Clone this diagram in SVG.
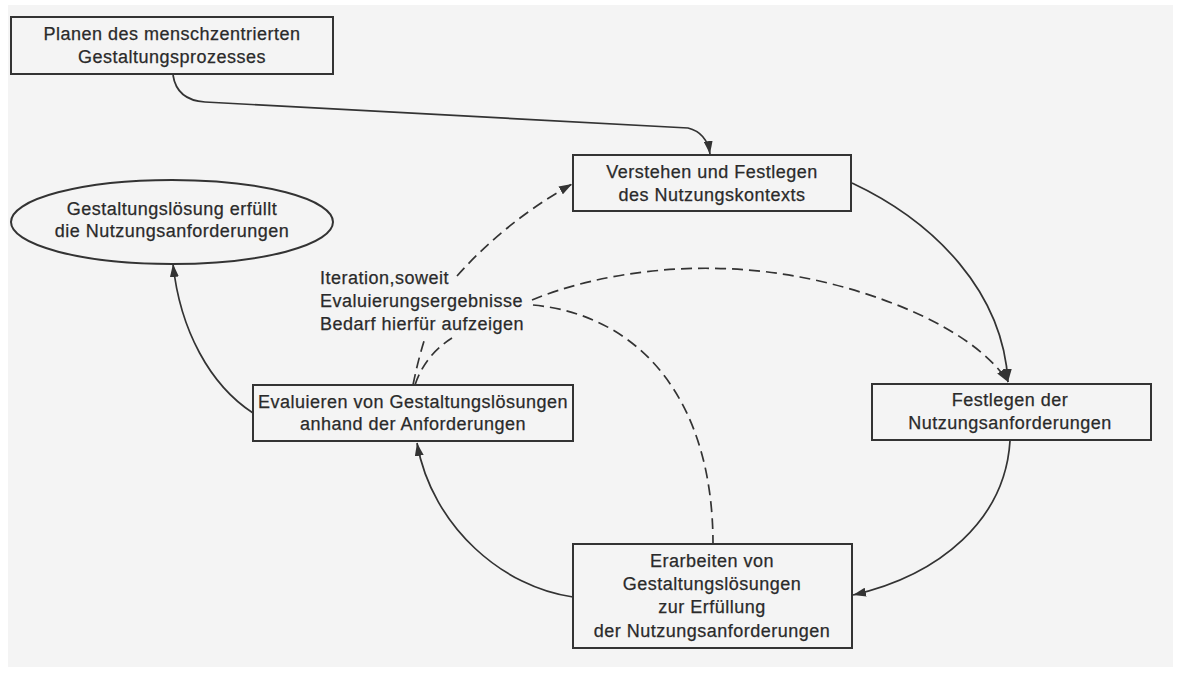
<svg xmlns="http://www.w3.org/2000/svg" width="1179" height="674" viewBox="0 0 1179 674">
  <style>
    .box { fill: none; stroke: #333; stroke-width: 2; }
    .t { font-family: "Liberation Sans", Arial, sans-serif; font-size: 18px; letter-spacing: 0.5px; fill: #2a2a2a; stroke: #2a2a2a; stroke-width: 0.25; }
    .c { text-anchor: middle; }
    .solid { fill: none; stroke: #333; stroke-width: 1.7; }
    .dash { fill: none; stroke: #333; stroke-width: 1.7; stroke-dasharray: 11 6; }
  </style>
  <defs>
    <marker id="arr" viewBox="0 0 13 9" refX="13" refY="4.5" markerWidth="13" markerHeight="9" markerUnits="userSpaceOnUse" orient="auto">
      <path d="M0,0 L13,4.5 L0,9 Z" fill="#333"/>
    </marker>
  </defs>
  <rect x="0" y="0" width="1179" height="674" fill="#ffffff"/>
  <rect x="8" y="5" width="1165" height="662" fill="#f4f4f4"/>

  <g id="connectors">
    <path class="solid" d="M173,75 C176,95 190,101 205,102 L688,128 C700,131 708,140 710,154" marker-end="url(#arr)"/>
    <path class="solid" d="M852,183 C935,222 1003,292 1008,382" marker-end="url(#arr)"/>
    <path class="dash" d="M532,300 C600,272 700,258 800,277 C880,292 975,330 1008,382" marker-end="url(#arr)"/>
    <path class="dash" d="M533,305 C640,315 713,400 713,544"/>
    <path class="dash" d="M457,276 Q505,222 572,184" marker-end="url(#arr)"/>
    <path class="dash" d="M413,385 Q418,360 425,338"/>
    <path class="dash" d="M415,385 Q425,355 452,338"/>
    <path class="solid" d="M573,597 C505,588 432,528 417,443" marker-end="url(#arr)"/>
    <path class="solid" d="M253,413 C210,385 180,330 173,264" marker-end="url(#arr)"/>
    <path class="solid" d="M1010,441 C1005,520 940,575 853,595" marker-end="url(#arr)"/>
  </g>

  <g id="planen">
    <rect class="box" x="11" y="17" width="322" height="57"/>
    <text class="t c" x="172" y="39.5">Planen des menschzentrierten</text>
    <text class="t c" x="172" y="63">Gestaltungsprozesses</text>
  </g>

  <g id="ziel">
    <ellipse class="box" cx="172" cy="222" rx="161" ry="42"/>
    <text class="t c" x="172" y="215">Gestaltungslösung erfüllt</text>
    <text class="t c" x="172" y="237">die Nutzungsanforderungen</text>
  </g>

  <g id="verstehen">
    <rect class="box" x="573" y="155" width="278" height="56"/>
    <text class="t c" x="712" y="177.5">Verstehen und Festlegen</text>
    <text class="t c" x="712" y="200.5">des Nutzungskontexts</text>
  </g>

  <g id="festlegen">
    <rect class="box" x="872" y="384" width="279" height="56"/>
    <text class="t c" x="1010" y="406">Festlegen der</text>
    <text class="t c" x="1010" y="429">Nutzungsanforderungen</text>
  </g>

  <g id="erarbeiten">
    <rect class="box" x="573" y="544" width="279" height="104"/>
    <text class="t c" x="712" y="567">Erarbeiten von</text>
    <text class="t c" x="712" y="590">Gestaltungslösungen</text>
    <text class="t c" x="712" y="613">zur Erfüllung</text>
    <text class="t c" x="712" y="637">der Nutzungsanforderungen</text>
  </g>

  <g id="evaluieren">
    <rect class="box" x="253" y="385" width="320" height="56"/>
    <text class="t c" x="413" y="408">Evaluieren von Gestaltungslösungen</text>
    <text class="t c" x="413" y="430">anhand der Anforderungen</text>
  </g>

  <g id="iteration">
    <text class="t" x="320" y="283.5">Iteration,soweit</text>
    <text class="t" x="320" y="306.5">Evaluierungsergebnisse</text>
    <text class="t" x="320" y="330">Bedarf hierfür aufzeigen</text>
  </g>
</svg>
